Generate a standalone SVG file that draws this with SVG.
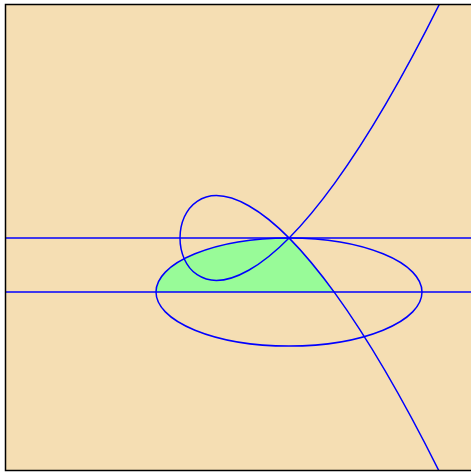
<svg xmlns="http://www.w3.org/2000/svg" width="471" height="473" viewBox="0 0 471 473">
<style>
.ln{fill:none;stroke:#0000FF;stroke-width:1.5}
</style>
<defs>
<clipPath id="frame"><rect x="5" y="4" width="467" height="466"/></clipPath>
</defs>
<rect x="0" y="0" width="471" height="473" fill="#FFFFFF"/>
<rect id="background" x="5" y="4" width="467" height="466" fill="#F5DEB3"/>
<g id="region" clip-path="url(#frame)">
<path d="M156,292 A133,54 0 0 1 289,238 C302.73,251.84 317.74,269.58 334.07,292 Z" fill="#98FB98"/>
</g>
<g id="connectors" clip-path="url(#frame)">
<line class="ln" x1="0" y1="238" x2="472" y2="238"/>
<line class="ln" x1="0" y1="292" x2="472" y2="292"/>
<ellipse class="ln" cx="289" cy="292" rx="133" ry="54"/>
<path class="ln" d="M454.79,-27.26 C88.40,735.80 88.40,-259.80 454.79,503.26"/>
</g>
<rect id="border" x="5.5" y="4.5" width="468" height="466" fill="none" stroke="#000000" stroke-width="1.5"/>
</svg>
